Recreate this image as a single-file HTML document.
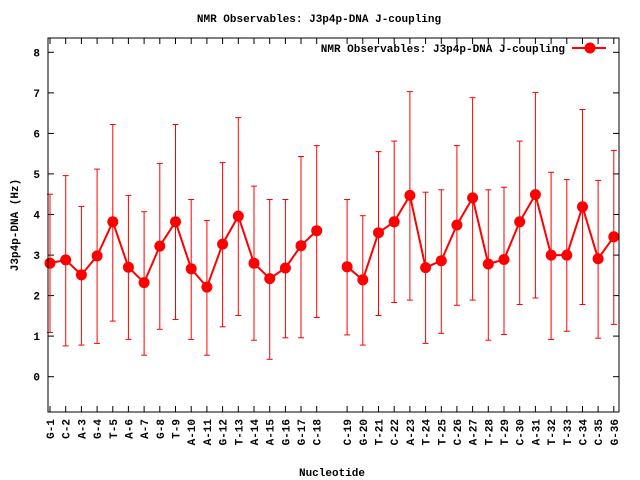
<!DOCTYPE html>
<html><head><meta charset="utf-8"><style>
html,body{margin:0;padding:0;background:#fff;width:640px;height:480px;overflow:hidden}
svg text{font-family:"Liberation Mono",monospace;font-weight:bold;font-size:11px;fill:#000}
</style></head><body>
<svg id="s" width="640" height="480" xmlns="http://www.w3.org/2000/svg">
<rect x="0" y="0" width="640" height="480" fill="#fff"/>
<text x="319" y="22" text-anchor="middle">NMR Observables: J3p4p-DNA J-coupling</text>
<text x="332" y="476" text-anchor="middle">Nucleotide</text>
<text transform="translate(18,225) rotate(-90)" text-anchor="middle">J3p4p-DNA (Hz)</text>
<text x="565" y="52" text-anchor="end">NMR Observables: J3p4p-DNA J-coupling</text>
<line x1="572" y1="48" x2="606" y2="48" stroke="#f00" stroke-width="2"/>
<circle cx="590" cy="48" r="5.5" fill="#f00"/>
<g id="g"></g>
<rect x="48" y="38" width="571" height="374" fill="none" stroke="#000" stroke-width="1"/>
</svg>
<script>
var d=[[2.80,1.09,4.50],[2.88,0.76,4.96],[2.51,0.78,4.20],[2.98,0.82,5.12],[3.82,1.37,6.22],[2.70,0.92,4.47],[2.32,0.53,4.07],[3.22,1.17,5.26],[3.82,1.41,6.22],[2.66,0.92,4.37],[2.21,0.53,3.85],[3.27,1.23,5.28],[3.96,1.51,6.39],[2.80,0.90,4.70],[2.42,0.43,4.37],[2.68,0.96,4.37],[3.23,0.96,5.43],[3.60,1.46,5.70],
[2.71,1.03,4.37],[2.39,0.78,3.97],[3.55,1.51,5.55],[3.82,1.83,5.81],[4.47,1.89,7.03],[2.69,0.82,4.55],[2.86,1.07,4.61],[3.74,1.76,5.70],[4.41,1.89,6.88],[2.78,0.90,4.61],[2.89,1.04,4.67],[3.82,1.78,5.81],[4.49,1.94,7.01],[3.00,0.92,5.04],[3.00,1.12,4.86],[4.19,1.78,6.59],[2.91,0.95,4.84],[3.45,1.29,5.58]];
var names=["G","C","A","G","T","A","A","G","T","A","A","G","T","A","A","G","G","C","C","G","T","C","A","T","T","C","A","T","T","C","A","T","T","C","C","G"];
var h='';
function X(i){return i<=18?50+(i-1)*15.69:50+i*15.69-1;}
function Y(v){return 376.7-v*40.55;}
for(var v=0;v<=8;v++){var y=Y(v).toFixed(1);h+='<line x1="48" y1="'+y+'" x2="54" y2="'+y+'" stroke="#000"/><line x1="613" y1="'+y+'" x2="619" y2="'+y+'" stroke="#000"/><text x="40" y="'+(Y(v)+4).toFixed(1)+'" text-anchor="end">'+v+'</text>';}
var pts1=[],pts2=[];
for(var i=1;i<=36;i++){var x=X(i).toFixed(1),e=d[i-1];
h+='<line x1="'+x+'" y1="412" x2="'+x+'" y2="406" stroke="#000"/><line x1="'+x+'" y1="38" x2="'+x+'" y2="44" stroke="#000"/>';
h+='<text transform="translate('+(X(i)+4)+',419) rotate(-90)" text-anchor="end">'+names[i-1]+'-'+i+'</text>';
var a=Y(e[1]).toFixed(1),b=Y(e[2]).toFixed(1);
h+='<line x1="'+x+'" y1="'+a+'" x2="'+x+'" y2="'+b+'" stroke="#f00"/><line x1="'+(X(i)-3)+'" y1="'+a+'" x2="'+(X(i)+3)+'" y2="'+a+'" stroke="#f00"/><line x1="'+(X(i)-3)+'" y1="'+b+'" x2="'+(X(i)+3)+'" y2="'+b+'" stroke="#f00"/>';
(i<=18?pts1:pts2).push(x+','+Y(e[0]).toFixed(1));}
h+='<polyline points="'+pts1.join(' ')+'" fill="none" stroke="#f00" stroke-width="2"/><polyline points="'+pts2.join(' ')+'" fill="none" stroke="#f00" stroke-width="2"/>';
for(var i=1;i<=36;i++){h+='<circle cx="'+X(i).toFixed(1)+'" cy="'+Y(d[i-1][0]).toFixed(1)+'" r="5.5" fill="#f00"/>';}
document.getElementById('g').innerHTML=h;
</script>
</body></html>
